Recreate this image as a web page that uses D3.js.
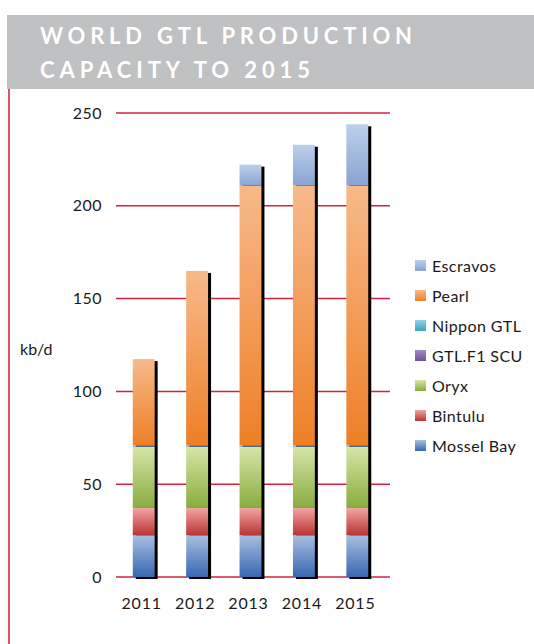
<!DOCTYPE html>
<html>
<head>
<meta charset="utf-8">
<script src="https://cdn.jsdelivr.net/npm/d3@7"></script>
<style>
  body { margin: 0; background: #fff; }
  text { font-family: Lato, "DejaVu Sans", sans-serif; fill: #1a1a1a; }
</style>
</head>
<body>
<svg id="chart" width="534" height="644"></svg>
<script>
var years = ['2011', '2012', '2013', '2014', '2015'];
// stack order, bottom first
var plants = ['Mossel Bay', 'Bintulu', 'Oryx', 'GTL.F1 SCU', 'Nippon GTL', 'Pearl', 'Escravos'];
var mosselBay = [22.5, 22.5, 22.5, 22.5, 22.5];
var bintulu   = [14.7, 14.7, 14.7, 14.7, 14.7];
var oryx      = [33, 33, 33, 33, 33];
var gtlF1     = [0.2, 0.2, 0.2, 0.2, 0.2];
var nippon    = [0.5, 0.5, 0.5, 0.5, 0.5];
var pearl     = [46.5, 94, 140, 140, 140];
var escravos  = [0, 0, 11.3, 22, 33];
var yTicks = [0, 50, 100, 150, 200, 250];
var titleLines = ['WORLD GTL PRODUCTION', 'CAPACITY TO 2015'];

// top / bottom colours of each gradient
var shades = {
  'Mossel Bay': ['#a9bfe2', '#3767b0'],
  'Bintulu':    ['#f4a3a3', '#b83535'],
  'Oryx':       ['#d6e5a8', '#88ad3e'],
  'GTL.F1 SCU': ['#a08bc4', '#6e529a'],
  'Nippon GTL': ['#8fd3e8', '#3aa2c0'],
  'Pearl':      ['#f7b98b', '#ee7f26'],
  'Escravos':   ['#bbd0ea', '#89a4d3']
};

var series = [mosselBay, bintulu, oryx, gtlF1, nippon, pearl, escravos];
var rows = years.map(function(y, i) {
  var r = {year: y};
  plants.forEach(function(p, k) { r[p] = series[k][i]; });
  return r;
});

var svg = d3.select('#chart');
var defs = svg.append('defs');
plants.forEach(function(p, k) {
  var g = defs.append('linearGradient')
    .attr('id', 'grad' + k)
    .attr('x1', 0).attr('y1', 0).attr('x2', 0).attr('y2', 1);
  g.append('stop').attr('offset', '0%').attr('stop-color', shades[p][0]);
  g.append('stop').attr('offset', '100%').attr('stop-color', shades[p][1]);
});

// title banner
svg.append('rect')
  .attr('x', 7).attr('y', 15).attr('width', 527).attr('height', 74)
  .attr('fill', '#bfc1c2');
svg.selectAll('.title')
  .data(titleLines)
  .enter().append('text')
  .attr('class', 'title')
  .attr('x', 40)
  .attr('y', function(d, i) { return 44 + i * 34; })
  .attr('textLength', function(d, i) { return i == 0 ? 372 : 270; })
  .attr('lengthAdjust', 'spacing')
  .style('fill', '#fff')
  .style('font-size', '22px')
  .style('font-weight', 'bold')
  .text(function(d) { return d; });

svg.append('line')
  .attr('x1', 9).attr('x2', 9).attr('y1', 89).attr('y2', 644)
  .attr('stroke', '#d0153c').attr('stroke-width', 1.5);

var x = d3.scaleBand()
  .domain(years)
  .range([117, 384])
  .paddingInner(0.59)
  .paddingOuter(0.295);

var y = d3.scaleLinear()
  .domain([0, 250])
  .range([577, 113]);

// grid lines
svg.selectAll('.grid')
  .data(yTicks)
  .enter().append('line')
  .attr('class', 'grid')
  .attr('x1', 116).attr('x2', 390)
  .attr('y1', function(d) { return y(d); })
  .attr('y2', function(d) { return y(d); })
  .attr('stroke', '#d3213f')
  .attr('stroke-width', 1.5);

var yAxis = svg.append('g')
  .attr('transform', 'translate(102,0)')
  .call(d3.axisLeft(y).tickValues(yTicks).tickSize(0).tickPadding(0));
yAxis.select('.domain').remove();
yAxis.selectAll('text')
  .style('font-size', '16px')
  .style('letter-spacing', '0.5px')
  .attr('fill', null);

var xAxis = svg.append('g')
  .attr('transform', 'translate(-2,598)')
  .call(d3.axisBottom(x).tickSize(0).tickPadding(0));
xAxis.select('.domain').remove();
xAxis.selectAll('text')
  .style('font-size', '16px')
  .style('letter-spacing', '0.8px')
  .attr('fill', null);

svg.append('text')
  .attr('x', 20).attr('y', 355)
  .style('font-size', '16px')
  .text('kb/d');

var stacked = d3.stack().keys(plants)(rows);

// shadows behind each bar
svg.selectAll('.shadow')
  .data(rows)
  .enter().append('rect')
  .attr('class', 'shadow')
  .attr('x', function(d) { return x(d.year) + 3; })
  .attr('y', function(d, i) { return y(stacked[plants.length - 1][i][1]) + 2; })
  .attr('width', x.bandwidth())
  .attr('height', function(d, i) { return y(0) - y(stacked[plants.length - 1][i][1]); })
  .attr('fill', '#000');

svg.selectAll('.layer')
  .data(stacked)
  .enter().append('g')
  .attr('class', 'layer')
  .attr('fill', function(d, k) { return 'url(#grad' + k + ')'; })
  .selectAll('rect')
  .data(function(d) { return d.filter(function(s) { return s[1] > s[0]; }); })
  .enter().append('rect')
  .attr('x', function(d) { return x(d.data.year); })
  .attr('y', function(d) { return y(d[1]); })
  .attr('width', x.bandwidth())
  .attr('height', function(d) { return y(d[0]) - y(d[1]); });

// legend, top entry is the top of the stack
var legendItems = plants.slice().reverse();
var legend = svg.selectAll('.legend')
  .data(legendItems)
  .enter().append('g')
  .attr('class', 'legend')
  .attr('transform', function(d, i) { return 'translate(415,' + (260 + i * 30) + ')'; });
legend.append('rect')
  .attr('width', 11).attr('height', 11)
  .attr('fill', function(d) { return 'url(#grad' + plants.indexOf(d) + ')'; });
legend.append('text')
  .attr('x', 17).attr('y', 11.5)
  .style('font-size', '16px')
  .style('letter-spacing', '0.4px')
  .text(function(d) { return d; });
</script>
</body>
</html>
